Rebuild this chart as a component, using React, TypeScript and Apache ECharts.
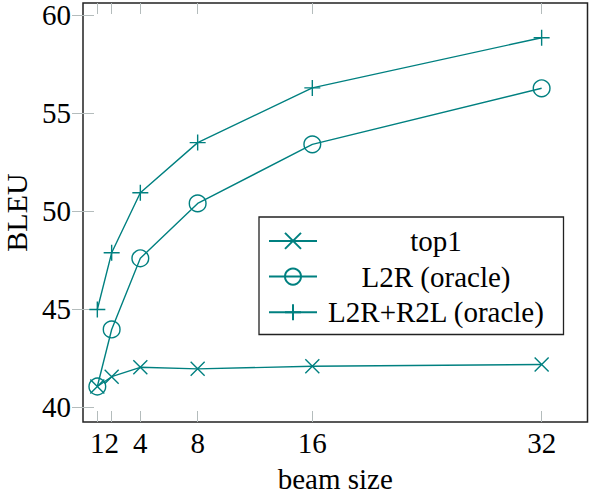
import { useEffect, useRef } from 'react';
import * as echarts from 'echarts';

const beamSizes = [1, 2, 4, 8, 16, 32];
const top1 = [41.05, 41.55, 42.03, 41.95, 42.08, 42.17];
const l2rOracle = [41.05, 43.96, 47.59, 50.39, 53.4, 56.26];
const l2rR2lOracle = [44.98, 47.87, 50.93, 53.49, 56.28, 58.84];
const xTicks = [1, 2, 4, 8, 16, 32];
const yTicks = [40, 45, 50, 55, 60];
const seriesNames = ['top1', 'L2R (oracle)', 'L2R+R2L (oracle)'];

const TEAL = '#008080';
const FONT = "'Liberation Serif', 'Times New Roman', serif";
const CROSS = 'path://M-1,-1L1,1M-1,1L1,-1';
const PLUS = 'path://M0,-1L0,1M-1,0L1,0';

function pairs(values: number[]) {
    return beamSizes.map((b, i) => [b, values[i]]);
}

export default function App() {
    const chartRef = useRef<HTMLDivElement>(null);

    useEffect(() => {
        if (!chartRef.current) return;
        const chart = echarts.init(chartRef.current, null, { renderer: 'svg' });

        const tickStyle = { color: '#b4bcbc', width: 1 };
        const xBase = {
            type: 'value',
            min: 0,
            max: 35.2,
            splitLine: { show: false },
            axisLine: { show: false },
            axisTick: { show: true, inside: true, length: 11, lineStyle: tickStyle, customValues: xTicks },
        };
        const yBase = {
            type: 'value',
            min: 39.24,
            max: 60.61,
            splitLine: { show: false },
            axisLine: { show: false },
            axisTick: { show: true, inside: true, length: 11, lineStyle: tickStyle, customValues: yTicks },
        };

        const makeSeries = (name: string, values: number[], symbol: string, size: number) => ({
            name,
            type: 'line',
            data: pairs(values),
            symbol,
            symbolSize: size,
            lineStyle: { color: TEAL, width: 1.4 },
            itemStyle: { color: 'transparent', borderColor: TEAL, borderWidth: 1.4 },
            emphasis: { disabled: true },
        });

        chart.setOption({
            animation: false,
            textStyle: { fontFamily: FONT },
            grid: {
                left: 83,
                right: 2.5,
                top: 3,
                bottom: 72,
                outerBoundsMode: 'none',
                show: true,
                borderColor: '#222',
                borderWidth: 1.5,
                backgroundColor: 'transparent',
            },
            legend: {
                orient: 'vertical',
                left: 259,
                top: 217,
                data: seriesNames,
                itemWidth: 48,
                itemHeight: 20,
                itemGap: 6.7,
                padding: [9.4, 13.5, 7.7, 9],
                borderColor: '#222',
                borderWidth: 1.3,
                backgroundColor: '#fff',
                formatter: (name: string) => `{t|${name}}`,
                textStyle: {
                    fontFamily: FONT,
                    rich: {
                        t: {
                            width: 228,
                            align: 'center',
                            fontSize: 29,
                            lineHeight: 30,
                            fontFamily: FONT,
                            color: '#000',
                        },
                    },
                },
            },
            xAxis: [
                {
                    ...xBase,
                    position: 'bottom',
                    name: 'beam size',
                    nameLocation: 'middle',
                    nameGap: 46,
                    nameTextStyle: { fontSize: 29, lineHeight: 22, fontFamily: FONT, color: '#000' },
                    axisLabel: {
                        customValues: xTicks,
                        fontSize: 29,
                        fontFamily: FONT,
                        color: '#000',
                        margin: 6,
                        hideOverlap: false,
                        showMinLabel: true,
                        showMaxLabel: true,
                    },
                },
                {
                    ...xBase,
                    position: 'top',
                    axisLabel: { show: false },
                },
            ],
            yAxis: [
                {
                    ...yBase,
                    position: 'left',
                    name: 'BLEU',
                    nameLocation: 'middle',
                    nameGap: 55,
                    nameTextStyle: { fontSize: 30, lineHeight: 22, fontFamily: FONT, color: '#000' },
                    axisLabel: { customValues: yTicks, fontSize: 29, fontFamily: FONT, color: '#000', margin: 12 },
                },
                {
                    ...yBase,
                    position: 'right',
                    axisLabel: { show: false },
                },
            ],
            series: [
                makeSeries(seriesNames[0], top1, CROSS, 14),
                makeSeries(seriesNames[1], l2rOracle, 'circle', 16.7),
                makeSeries(seriesNames[2], l2rR2lOracle, PLUS, 16),
            ],
        });

        return () => {
            chart.dispose();
        };
    }, []);

    return (
        <div
            ref={chartRef}
            style={{ position: 'absolute', left: 0, top: 0, width: 590, height: 494, background: '#fff' }}
        />
    );
}
